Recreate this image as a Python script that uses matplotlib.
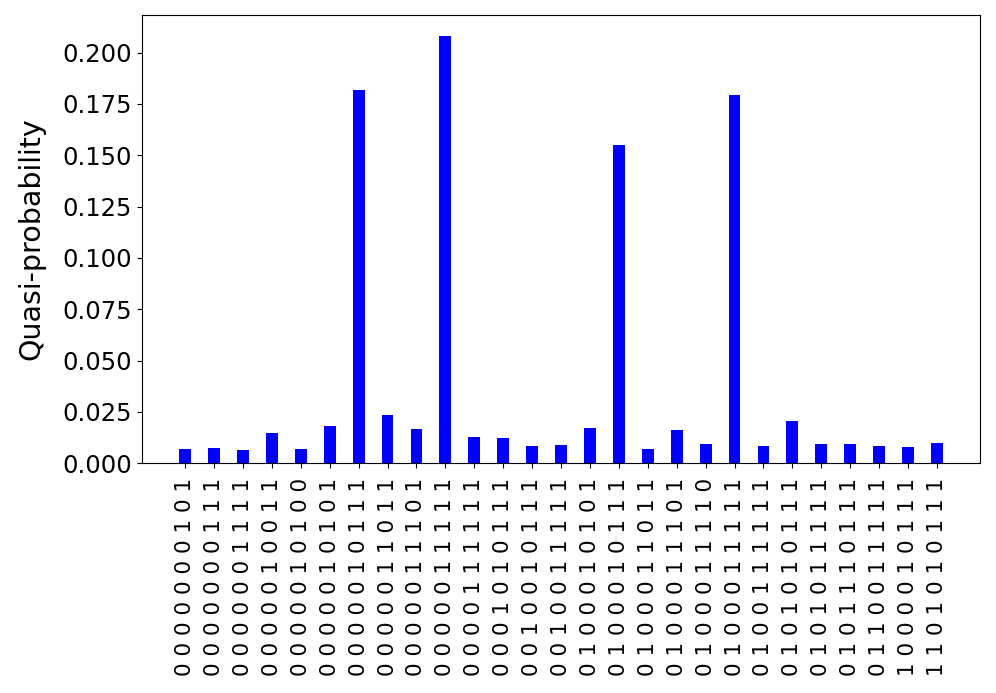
import matplotlib
matplotlib.use("Agg")
import matplotlib.pyplot as plt
import numpy as np

# bitstrings, read left to right on the x axis
states = [
    "0000000101", "0000000111", "0000001111", "0000010011", "0000010100",
    "0000010101", "0000010111", "0000011011", "0000011101", "0000011111",
    "0000111111", "0001010111", "0010010111", "0010011111", "0100010101",
    "0100010111", "0100011011", "0100011101", "0100011110", "0100011111",
    "0100111111", "0101010111", "0101011111", "0101110111", "0110011111",
    "1000010111", "1101010111",
]
quasi = [
    0.0068, 0.0073, 0.0066, 0.0146, 0.0070,
    0.0180, 0.1820, 0.0234, 0.0167, 0.2079,
    0.0127, 0.0125, 0.0086, 0.0089, 0.0174,
    0.1552, 0.0070, 0.0161, 0.0096, 0.1791,
    0.0086, 0.0208, 0.0094, 0.0092, 0.0083,
    0.0081, 0.0099,
]

tick_labels = [" ".join(s) for s in states]
ind = np.arange(len(states))

fig = plt.figure(figsize=(9.96, 6.93), dpi=100)
ax = fig.add_axes([0.1423, 0.3315, 0.8420, 0.6469])

ax.bar(ind, quasi, width=0.41, color="#0000ff")

ax.set_xlim(-1.5, len(states) + 0.5)
ax.set_ylim(0, max(quasi) * 1.05)
ax.set_xticks(ind)
ax.set_xticklabels(tick_labels, rotation=90, fontsize=15.5)
ax.tick_params(axis="x", pad=7)
ax.set_yticks(np.arange(0, 0.201, 0.025))
ax.set_yticklabels([f"{v:.3f}" for v in np.arange(0, 0.201, 0.025)], fontsize=17.5)
ax.set_ylabel("Quasi-probability", fontsize=20.5, labelpad=12)

fig.savefig("out.png", dpi=100)
